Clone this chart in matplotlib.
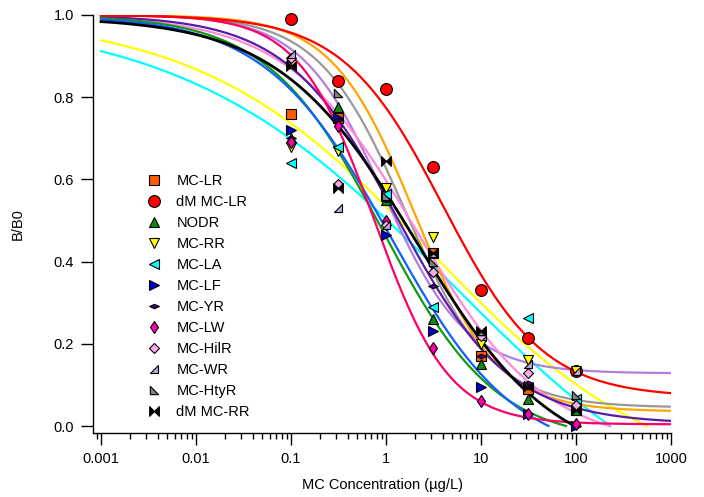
import numpy as np
import matplotlib.pyplot as plt
from matplotlib.path import Path

plt.rcParams['font.family'] = ['Liberation Sans', 'DejaVu Sans']

# --- data ---------------------------------------------------------------
conc = [0.1, 0.316, 1, 3.16, 10, 31.6, 100]

names = ['MC-LR', 'dM MC-LR', 'NODR', 'MC-RR', 'MC-LA', 'MC-LF',
         'MC-YR', 'MC-LW', 'MC-HilR', 'MC-WR', 'MC-HtyR', 'dM MC-RR']

b_b0 = [
    [0.76, 0.75, 0.56, 0.42, 0.17, 0.09, 0.04],     # MC-LR
    [0.99, 0.84, 0.82, 0.63, 0.33, 0.215, 0.135],   # dM MC-LR
    [0.70, 0.775, 0.55, 0.26, 0.15, 0.065, 0.04],   # NODR
    [0.68, 0.67, 0.58, 0.46, 0.20, 0.16, 0.135],    # MC-RR
    [0.64, 0.68, 0.565, 0.29, 0.22, 0.263, 0.065],  # MC-LA
    [0.72, 0.75, 0.465, 0.23, 0.095, 0.03, 0.0],    # MC-LF
    [0.70, 0.745, 0.55, 0.34, 0.17, 0.105, 0.05],   # MC-YR
    [0.69, 0.73, 0.50, 0.19, 0.06, 0.03, 0.005],    # MC-LW
    [0.895, 0.59, 0.49, 0.375, 0.22, 0.13, 0.05],   # MC-HilR
    [0.905, 0.53, 0.49, 0.42, 0.23, 0.15, 0.135],   # MC-WR
    [0.88, 0.81, 0.56, 0.40, 0.23, 0.10, 0.075],    # MC-HtyR
    [0.875, 0.58, 0.645, 0.42, 0.23, 0.095, 0.04],  # dM MC-RR
]

# four-parameter logistic fits (top, bottom, IC50, slope)
fit_top = [1.0, 1.0, 1.0, 1.0, 1.0, 1.0, 1.0, 1.0, 1.0, 1.0, 1.0, 0.995]
fit_bottom = [0.035, 0.07, -0.04, -0.15, -0.3, -0.08, 0.005, 0.004, -0.05, 0.128, 0.045, -0.1]
fit_ic50 = [2.0, 4.0, 0.9, 2.9, 4.73, 1.12, 1.34, 0.75, 2.1, 0.95, 1.6, 2.1]
fit_slope = [1.0, 0.82, 0.72, 0.36, 0.31, 0.66, 0.74, 1.1, 0.64, 1.0, 0.95, 0.6]
fit_start = [0.001] * 9 + [0.015] + [0.001] * 2

# --- styles ---------------------------------------------------------------
bowtie = Path([(-1, 1), (1, -1), (1, 1), (-1, -1), (-1, 1)],
              [Path.MOVETO, Path.LINETO, Path.LINETO, Path.LINETO, Path.CLOSEPOLY])
flat_diamond = Path([(-1, 0), (0, 0.45), (1, 0), (0, -0.45), (-1, 0)],
                    [Path.MOVETO, Path.LINETO, Path.LINETO, Path.LINETO, Path.CLOSEPOLY])
tri_br = Path([(-1, -1), (1, -1), (1, 1), (-1, -1)],
              [Path.MOVETO, Path.LINETO, Path.LINETO, Path.CLOSEPOLY])
tri_bl = Path([(-1, -1), (1, -1), (-1, 1), (-1, -1)],
              [Path.MOVETO, Path.LINETO, Path.LINETO, Path.CLOSEPOLY])

markers = ['s', 'o', '^', 'v', '<', '>', flat_diamond, 'd', 'D', tri_br, tri_bl, bowtie]
msizes = [7, 8.5, 7, 7, 7, 7, 7, 6.5, 5.5, 6, 6, 7]
mcolors = ['#FF5A00', '#FF0000', '#118811', '#FFFF00', '#00FFFF', '#0000CC',
           '#440088', '#FF00AA', '#FFAAEE', '#C0A8E0', '#808080', '#000000']
lcolors = ['#FFA500', '#FF0000', '#119911', '#FFFF00', '#00FFFF', '#1060FF',
           '#5A1AA8', '#FF0066', '#FF88DD', '#B07FE0', '#999999', '#000000']
lwidths = [1.6, 1.6, 1.6, 1.6, 1.6, 1.6, 1.6, 1.6, 1.6, 1.6, 1.6, 2.0]

fig = plt.figure(figsize=(7.04, 4.97), dpi=100)
ax = fig.add_axes([93 / 704, 1 - 433 / 497, (671 - 93) / 704, (433 - 15) / 497])

draw_order = [4, 3, 9, 10, 0, 8, 6, 2, 5, 7, 11, 1]
for i in draw_order:
    xs = np.logspace(np.log10(fit_start[i]), 3, 1500)
    ys = fit_bottom[i] + (fit_top[i] - fit_bottom[i]) / (1 + (xs / fit_ic50[i]) ** fit_slope[i])
    ys = np.where(ys >= 0, ys, np.nan)
    ax.plot(xs, ys, color=lcolors[i], lw=lwidths[i], zorder=2)

for i, name in enumerate(names):
    ax.plot(conc, b_b0[i], linestyle='none', marker=markers[i], ms=msizes[i],
            mfc=mcolors[i], mec='black', mew=0.8, label=name, zorder=3, clip_on=False)

ax.set_xscale('log')
ax.set_xlim(10 ** -3.084, 1000)
ax.set_ylim(-0.017, 1.0)
ax.set_xticks([0.001, 0.01, 0.1, 1, 10, 100, 1000])
ax.set_xticklabels(['0.001', '0.01', '0.1', '1', '10', '100', '1000'])
ax.set_yticks([0.0, 0.2, 0.4, 0.6, 0.8, 1.0])
ax.set_yticklabels(['0.0', '0.2', '0.4', '0.6', '0.8', '1.0'])
ax.tick_params(which='major', direction='out', length=8.5, width=1, labelsize=10.5, pad=5)
ax.tick_params(which='minor', direction='out', length=4.5, width=1)
ax.tick_params(axis='y', which='minor', left=False)
for s in ['top', 'right']:
    ax.spines[s].set_visible(False)
for s in ['left', 'bottom']:
    ax.spines[s].set_linewidth(1)

ax.set_xlabel('MC Concentration (µg/L)', fontsize=10.5, labelpad=9)
ax.set_ylabel('B/B0', fontsize=10.5, labelpad=21)

ax.legend(loc='upper left', bbox_to_anchor=(0.081, 0.636), frameon=False,
          fontsize=10.5, handlelength=1.0, handletextpad=1.0, labelspacing=0.475,
          borderpad=0)

fig.savefig('out.png', dpi=100, facecolor='white')
